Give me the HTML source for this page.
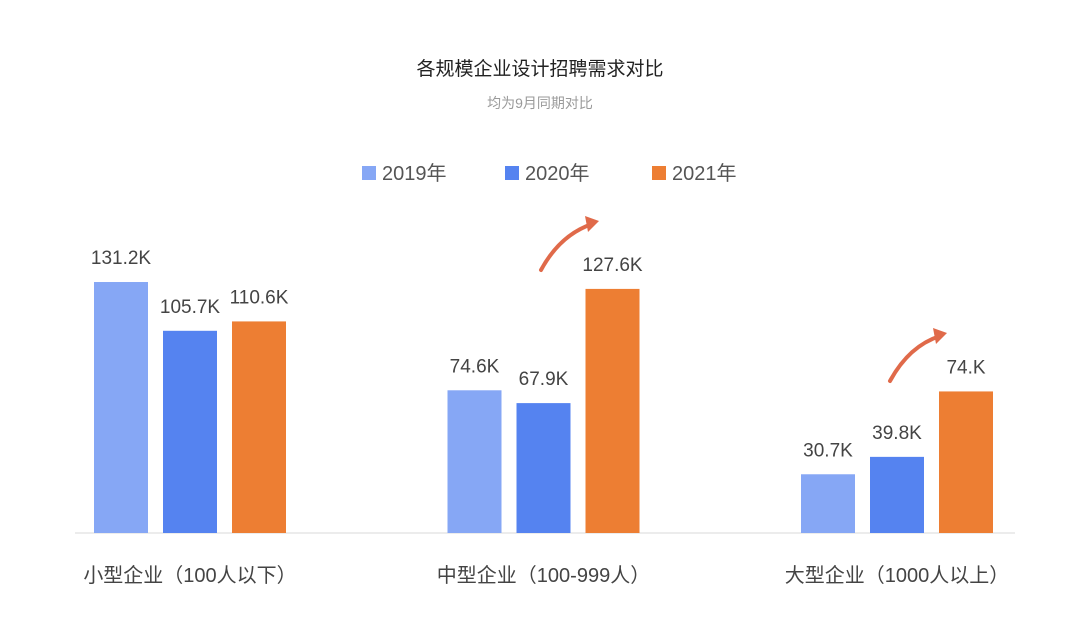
<!DOCTYPE html>
<html><head><meta charset="utf-8"><style>
body{margin:0;background:#fff;}
svg{display:block;font-family:"Liberation Sans","Noto Sans CJK SC",sans-serif;}
</style></head><body>
<svg id="c" width="1080" height="642" viewBox="0 0 1080 642">
<text x="540" y="75" text-anchor="middle" font-size="19" fill="#222">各规模企业设计招聘需求对比</text>
<text x="540" y="108" text-anchor="middle" font-size="14" fill="#9a9a9a">均为9月同期对比</text>
<g id="legend"></g>
<line x1="75" y1="533" x2="1015" y2="533" stroke="#d9d9d9" stroke-width="1"/>
<g id="bars"></g>
<path d="M541 270 Q560 235 592 224" fill="none" stroke="#e06a4a" stroke-width="4" stroke-linecap="round"/>
<polygon points="599,221 585,216 588,232" fill="#e06a4a"/>
<path d="M890 381 Q909 346 940 336" fill="none" stroke="#e06a4a" stroke-width="4" stroke-linecap="round"/>
<polygon points="947,333 933,328 936,344" fill="#e06a4a"/>
</svg>
<script>
const categories=["小型企业（100人以下）","中型企业（100-999人）","大型企业（1000人以上）"];
const seriesNames=["2019年","2020年","2021年"];
const values2019=[131.2,74.6,30.7];
const values2020=[105.7,67.9,39.8];
const values2021=[110.6,127.6,74.0];
const valueLabels=[["131.2K","105.7K","110.6K"],["74.6K","67.9K","127.6K"],["30.7K","39.8K","74.K"]];
const colors=["#86a7f5","#5583f0","#ed7e33"];
const NS="http://www.w3.org/2000/svg";
const base=533, scale=1.913;
const y=v=>base-v*scale;
const groupX=i=>190+i*353.5;
const bw=54, step=69;
const series=[values2019,values2020,values2021];
const g=document.getElementById('bars');
function mk(t,a){const e=document.createElementNS(NS,t);for(const k in a)e.setAttribute(k,a[k]);return e;}
categories.forEach((c,i)=>{
  series.forEach((s,j)=>{
    const cx=groupX(i)+(j-1)*step;
    const r=mk('rect',{x:cx-bw/2,y:y(s[i]),width:bw,height:base-y(s[i]),fill:colors[j]});
    
    
    g.appendChild(r);
    const t=mk('text',{x:cx,y:y(s[i])-18,'text-anchor':'middle','font-size':19,fill:'#444'});
    t.textContent=valueLabels[i][j];
    
    
    g.appendChild(t);
  });
  const l=mk('text',{x:groupX(i),y:582,'text-anchor':'middle','font-size':20,fill:'#444'});
  l.textContent=c;
  
  
  g.appendChild(l);
});
const lg=document.getElementById('legend');
const lx=[362,505,652];
seriesNames.forEach((n,j)=>{
  const r=mk('rect',{x:lx[j],y:166,width:14,height:14,fill:colors[j]});
  
  
  lg.appendChild(r);
  const t=mk('text',{x:lx[j]+20,y:180,'font-size':20,fill:'#555'});
  t.textContent=n;
  
  
  lg.appendChild(t);
});
</script>
</body></html>
